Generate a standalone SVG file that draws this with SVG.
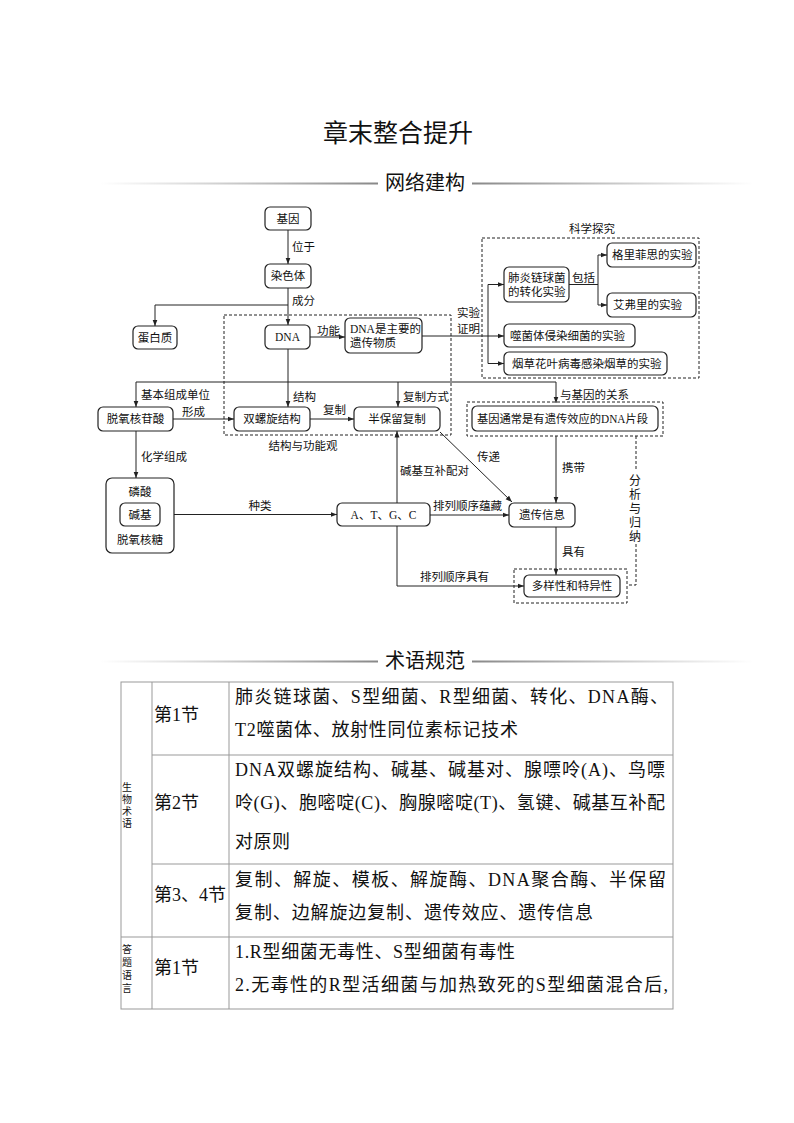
<svg xmlns="http://www.w3.org/2000/svg" width="794" height="1123" viewBox="0 0 794 1123">
<defs>
<style>
.box{fill:#fff;stroke:#222;stroke-width:1.2}
.dbox{fill:none;stroke:#222;stroke-width:1;stroke-dasharray:3 2}
.t{font-family:"Liberation Serif","Noto Sans CJK SC",serif;font-size:11.5px;fill:#111}
.c{text-anchor:middle}
.ln{stroke:#222;stroke-width:1;fill:none}
.arr{stroke:#222;stroke-width:1;fill:none;marker-end:url(#ah)}
.dl{stroke:#222;stroke-width:1;fill:none;stroke-dasharray:3 2}
.h1{font-family:"Noto Sans CJK SC",sans-serif;font-size:25px;fill:#111;text-anchor:middle}
.h2{font-family:"Noto Sans CJK SC",sans-serif;font-size:20px;fill:#111;text-anchor:middle}
.tb{stroke:#999;stroke-width:1;fill:none}
.tt{font-family:"Liberation Serif","Noto Sans CJK SC",serif;font-size:18px;fill:#111}
.vt{font-family:"Noto Sans CJK SC",sans-serif;fill:#111;writing-mode:vertical-rl}
</style>
<marker id="ah" markerWidth="7" markerHeight="6" refX="6.5" refY="3" orient="auto" markerUnits="userSpaceOnUse">
<path d="M0,0.5 L6.5,3 L0,5.5 z" fill="#222"/>
</marker>
<linearGradient id="gl" x1="0" y1="0" x2="1" y2="0">
<stop offset="0" stop-color="#999" stop-opacity="0"/>
<stop offset="1" stop-color="#888"/>
</linearGradient>
<linearGradient id="gr" x1="0" y1="0" x2="1" y2="0">
<stop offset="0" stop-color="#888"/>
<stop offset="1" stop-color="#999" stop-opacity="0"/>
</linearGradient>
</defs>
<rect x="0" y="0" width="794" height="1123" fill="#fff"/>

<g id="title">
<text class="h1" x="398" y="142">章末整合提升</text>
<text class="h2" x="425" y="190">网络建构</text>
<rect x="100" y="182.5" width="278" height="2" fill="url(#gl)"/>
<rect x="472" y="182.5" width="282" height="2" fill="url(#gr)"/>
<text class="h2" x="425" y="668">术语规范</text>
<rect x="100" y="660.5" width="278" height="2" fill="url(#gl)"/>
<rect x="472" y="660.5" width="282" height="2" fill="url(#gr)"/>
</g>

<g id="frames">
<rect class="dbox" x="224" y="315" width="227" height="120"/>
<rect class="dbox" x="482" y="238" width="217" height="140"/>
</g>

<g id="connectors">
<path class="arr" d="M288,230 V264"/>
<path class="arr" d="M288,288 V325"/>
<path class="arr" d="M288,305 H155 V326"/>
<path class="arr" d="M310,337 H345"/>
<path class="ln" d="M422,336 H488 M488,284.5 V363.5"/>
<path class="arr" d="M488,284.5 H504"/>
<path class="arr" d="M488,336 H504"/>
<path class="arr" d="M488,363.5 H504"/>
<path class="ln" d="M569,284.5 H598 M598,255 V305"/>
<path class="arr" d="M598,255 H607"/>
<path class="arr" d="M598,305 H607"/>
<path class="arr" d="M288,349 V407"/>
<path class="ln" d="M136,382 H556"/>
<path class="arr" d="M136,382 V407"/>
<path class="arr" d="M398,382 V407"/>
<path class="arr" d="M556,382 V403"/>
<path class="arr" d="M173,419 H234"/>
<path class="arr" d="M310,419 H354"/>
<path class="arr" d="M136,431 V478"/>
<path class="arr" d="M160,514.5 H337"/>
<path class="arr" d="M397,503 V431"/>
<path class="arr" d="M397,526 V586 H524"/>
<path class="arr" d="M430,515 H509"/>
<path class="arr" d="M440,432 L512,502"/>
<path class="arr" d="M556,436 V503"/>
<path class="arr" d="M556,527 V575"/>
<path class="dl" d="M636,436 V470 M636,544 V585 H627"/>
</g>

<g id="labels">
<text class="t" x="292" y="251">位于</text>
<text class="t" x="292" y="305">成分</text>
<text class="t" x="317" y="335">功能</text>
<text class="t" x="457" y="317">实验</text>
<text class="t" x="457" y="333">证明</text>
<text class="t c" x="592" y="233">科学探究</text>
<text class="t" x="572" y="282">包括</text>
<text class="t" x="141" y="399">基本组成单位</text>
<text class="t" x="182" y="416">形成</text>
<text class="t" x="293" y="401">结构</text>
<text class="t" x="323" y="414">复制</text>
<text class="t" x="403" y="401">复制方式</text>
<text class="t c" x="303" y="450">结构与功能观</text>
<text class="t" x="560" y="399">与基因的关系</text>
<text class="t" x="141" y="461">化学组成</text>
<text class="t c" x="260" y="510">种类</text>
<text class="t" x="400" y="475">碱基互补配对</text>
<text class="t" x="477" y="461">传递</text>
<text class="t" x="562" y="472">携带</text>
<text class="t" x="433" y="510">排列顺序蕴藏</text>
<text class="t" x="562" y="556">具有</text>
<text class="t" x="420" y="581">排列顺序具有</text>
<text class="vt" x="635" y="474" style="font-size:12px;letter-spacing:2px">分析与归纳</text>
</g>

<g id="n-jiyin"><rect class="box" x="265" y="207" width="46" height="23" rx="5"/><text class="t c" x="288" y="222.5">基因</text></g>
<g id="n-ranseti"><rect class="box" x="265" y="264" width="46" height="24" rx="5"/><text class="t c" x="288" y="280">染色体</text></g>
<g id="n-danbaizhi"><rect class="box" x="133" y="326" width="44" height="23" rx="5"/><text class="t c" x="155" y="341.5">蛋白质</text></g>
<g id="n-dna"><rect class="box" x="265" y="325" width="45" height="24" rx="5"/><text class="t c" x="287.5" y="341">DNA</text></g>
<g id="n-dna-main"><rect class="box" x="345" y="318" width="77" height="35" rx="5"/><text class="t" x="350" y="333">DNA是主要的</text><text class="t" x="350" y="347">遗传物质</text></g>
<g id="n-feiyan"><rect class="box" x="504" y="267" width="65" height="35" rx="5"/><text class="t" x="508" y="282">肺炎链球菌</text><text class="t" x="508" y="296">的转化实验</text></g>
<g id="n-geli"><rect class="box" x="607" y="243" width="89" height="24" rx="5"/><text class="t" x="612" y="259">格里菲思的实验</text></g>
<g id="n-aifuli"><rect class="box" x="607" y="293" width="89" height="24" rx="5"/><text class="t" x="613" y="309">艾弗里的实验</text></g>
<g id="n-shijunti"><rect class="box" x="504" y="324" width="131" height="23" rx="5"/><text class="t" x="510" y="340">噬菌体侵染细菌的实验</text></g>
<g id="n-yancao"><rect class="box" x="504" y="352" width="163" height="23" rx="5"/><text class="t" x="512" y="368">烟草花叶病毒感染烟草的实验</text></g>
<g id="n-tuoyang"><rect class="box" x="98" y="407" width="75" height="24" rx="5"/><text class="t c" x="135.5" y="423">脱氧核苷酸</text></g>
<g id="n-shuangluoxuan"><rect class="box" x="234" y="407" width="76" height="24" rx="5"/><text class="t c" x="272" y="423">双螺旋结构</text></g>
<g id="n-banbaoliu"><rect class="box" x="354" y="407" width="86" height="24" rx="5"/><text class="t c" x="397" y="423">半保留复制</text></g>
<g id="n-jiyintongchang"><rect class="dbox" x="467" y="402" width="196" height="34"/><rect class="box" x="472" y="406" width="186" height="25" rx="5"/><text class="t" x="477" y="422.5" textLength="171" lengthAdjust="spacingAndGlyphs">基因通常是有遗传效应的DNA片段</text></g>
<g id="n-zucheng"><rect class="box" x="106" y="478" width="68" height="75" rx="6"/><text class="t c" x="140" y="496">磷酸</text><rect class="box" x="120" y="503" width="40" height="23" rx="5"/><text class="t c" x="140" y="518.5">碱基</text><text class="t c" x="140" y="544">脱氧核糖</text></g>
<g id="n-atgc"><rect class="box" x="337" y="503" width="93" height="23" rx="5"/><text class="t c" x="383.5" y="518.5">A、T、G、C</text></g>
<g id="n-yichuanxinxi"><rect class="box" x="509" y="503" width="66" height="24" rx="5"/><text class="t c" x="542" y="519">遗传信息</text></g>
<g id="n-duoyang"><rect class="dbox" x="514" y="569" width="113" height="34"/><rect class="box" x="524" y="575" width="96" height="22" rx="5"/><text class="t c" x="572" y="590">多样性和特异性</text></g>

<g id="table">
<rect class="tb" x="121" y="682" width="552" height="327"/>
<path class="tb" d="M152,682 V1009 M229,682 V1009 M152,755 H673 M152,864 H673 M121,937 H673"/>
<text class="vt" x="127" y="782" style="font-size:10px;letter-spacing:2px">生物术语</text>
<text class="vt" x="127" y="944" style="font-size:10px;letter-spacing:3px">答题语言</text>
<text class="tt" x="154" y="721">第1节</text>
<text class="tt" x="154" y="809">第2节</text>
<text class="tt" x="154" y="901">第3、4节</text>
<text class="tt" x="154" y="974">第1节</text>
<text class="tt" x="235" y="703" textLength="433" lengthAdjust="spacing">肺炎链球菌、S型细菌、R型细菌、转化、DNA酶、</text>
<text class="tt" x="235" y="736" textLength="283" lengthAdjust="spacing">T2噬菌体、放射性同位素标记技术</text>
<text class="tt" x="235" y="776" textLength="430" lengthAdjust="spacing">DNA双螺旋结构、碱基、碱基对、腺嘌呤(A)、鸟嘌</text>
<text class="tt" x="235" y="809" textLength="430" lengthAdjust="spacing">呤(G)、胞嘧啶(C)、胸腺嘧啶(T)、氢键、碱基互补配</text>
<text class="tt" x="235" y="848" textLength="55" lengthAdjust="spacing">对原则</text>
<text class="tt" x="235" y="886" textLength="431" lengthAdjust="spacing">复制、解旋、模板、解旋酶、DNA聚合酶、半保留</text>
<text class="tt" x="235" y="919" textLength="358" lengthAdjust="spacing">复制、边解旋边复制、遗传效应、遗传信息</text>
<text class="tt" x="235" y="958" textLength="280" lengthAdjust="spacing">1.R型细菌无毒性、S型细菌有毒性</text>
<text class="tt" x="235" y="991" textLength="433" lengthAdjust="spacing">2.无毒性的R型活细菌与加热致死的S型细菌混合后,</text>
</g>
</svg>
